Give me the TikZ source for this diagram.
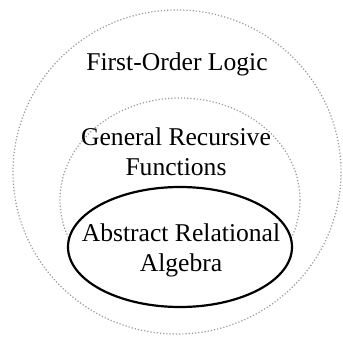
\documentclass[tikz,border=0pt]{standalone}
\usepackage{fontspec}
\setmainfont{Liberation Serif}
\begin{document}
\begin{tikzpicture}[x=0.5pt, y=-0.5pt, font=\fontsize{12.8}{15}\selectfont,
      faint/.style={draw=black!40, densely dotted, line width=0.6pt},
      core/.style={draw=black, fill=white, line width=1.1pt},
      lbl/.style={align=center, inner sep=0pt, anchor=base}]
    \useasboundingbox (0,0) rectangle (343,337);
    \draw[faint] (177,172) ellipse [x radius=164, y radius=162];
    \draw[faint] (180,200) ellipse [x radius=120, y radius=102];
    \draw[core] (180,247) ellipse [x radius=112, y radius=60];
    \node[lbl] (fol) at (177,70) {First-Order Logic};
    \node[lbl] (grf) at (176,175) {General Recursive\\ Functions};
    \node[lbl] (ara) at (181,271) {Abstract Relational\\ Algebra};
  \end{tikzpicture}
\end{document}
